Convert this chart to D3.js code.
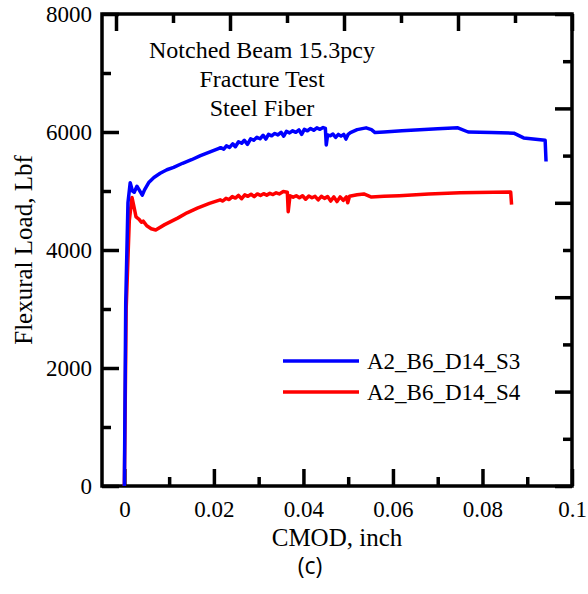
<!DOCTYPE html>
<html>
<head>
<meta charset="utf-8">
<script src="https://cdn.jsdelivr.net/npm/d3@7"></script>
<style>
  body { margin: 0; background: #fff; }
  svg { display: block; }
  .tick text { font-family: "Liberation Serif", serif; font-size: 23px; fill: #000; }
</style>
</head>
<body>
<div id="chart"></div>
<script>
// series S3 (blue): CMOD in inch, load in lbf
const s3Cmod = [0, 0.0003, 0.0008, 0.0013, 0.0018, 0.0022, 0.0028, 0.0033, 0.0040, 0.0045, 0.0055, 0.0066, 0.0080, 0.0095, 0.0110, 0.013, 0.015, 0.017, 0.019, 0.021,
  0.0215, 0.0222, 0.0228, 0.0235, 0.0242, 0.0248, 0.0255, 0.0262, 0.0268, 0.0275, 0.0282, 0.0289, 0.0296, 0.0303, 0.031, 0.0316, 0.0322, 0.0329, 0.0336, 0.0343,
  0.035, 0.0356, 0.0362, 0.0369, 0.0376, 0.0383, 0.039, 0.0396, 0.0402, 0.0409, 0.0416, 0.0423, 0.043, 0.0437, 0.0444, 0.0449, 0.0451, 0.0454, 0.046, 0.0466,
  0.0472, 0.0478, 0.0484, 0.049, 0.0495, 0.050, 0.0505, 0.052, 0.054, 0.0552, 0.056, 0.058, 0.062, 0.066, 0.070, 0.0745, 0.0768, 0.082, 0.087, 0.0892, 0.094, 0.0942];
const s3Load = [0, 3100, 4800, 5140, 5000, 4980, 5080, 5020, 4930, 5020, 5150, 5230, 5300, 5360, 5400, 5470, 5530, 5600, 5660, 5720,
  5735, 5710, 5765, 5740, 5800, 5750, 5835, 5810, 5860, 5790, 5885, 5860, 5910, 5885, 5945, 5880, 5960, 5935, 5975, 5950,
  5995, 5930, 6010, 5985, 6020, 5995, 6035, 5960, 6045, 6020, 6060, 6030, 6070, 6045, 6075, 6060, 5780, 5950, 5935, 5965,
  5910, 5960, 5930, 5960, 5880, 5960, 5990, 6040, 6070, 6040, 5990, 6000, 6020, 6040, 6055, 6070, 6000, 5990, 5980, 5900, 5860, 5500];

// series S4 (red)
const s4Cmod = [0, 0.0004, 0.0011, 0.0017, 0.0021, 0.0026, 0.0033, 0.0038, 0.0042, 0.0050, 0.0060, 0.0070, 0.0090, 0.0119, 0.0140, 0.0163, 0.019, 0.0214,
  0.022, 0.0227, 0.0234, 0.0241, 0.0248, 0.0255, 0.0262, 0.0269, 0.0276, 0.0283, 0.029, 0.0297, 0.0304, 0.0311, 0.0318, 0.0325, 0.0332, 0.0339, 0.0346, 0.0355,
  0.0364, 0.0366, 0.037, 0.0377, 0.0384, 0.0391, 0.0398, 0.0405, 0.0412, 0.0419, 0.0426, 0.0433, 0.044, 0.0447, 0.0454, 0.0461, 0.0468, 0.0475, 0.0482, 0.0489,
  0.0496, 0.0499, 0.0503, 0.052, 0.0535, 0.0552, 0.058, 0.0614, 0.068, 0.075, 0.0863, 0.0865];
const s4Load = [0, 3000, 4500, 4890, 4750, 4560, 4520, 4470, 4490, 4410, 4360, 4340, 4430, 4540, 4630, 4710, 4790, 4850,
  4830, 4875, 4855, 4905, 4880, 4925, 4870, 4935, 4910, 4945, 4905, 4950, 4925, 4955, 4930, 4960, 4940, 4970, 4950, 4990,
  4980, 4650, 4920, 4895, 4920, 4885, 4920, 4860, 4915, 4885, 4910, 4850, 4910, 4875, 4905, 4830, 4900, 4820, 4900, 4840,
  4900, 4800, 4910, 4935, 4950, 4898, 4910, 4920, 4950, 4970, 4985, 4770];

const seriesNames = ["A2_B6_D14_S3", "A2_B6_D14_S4"];
const seriesColors = ["#0000ff", "#ff0000"];
const xTicks = [0, 0.02, 0.04, 0.06, 0.08, 0.1];
const xMinor = [0.01, 0.03, 0.05, 0.07, 0.09];
const yTicks = [0, 2000, 4000, 6000, 8000];
const yMinor = [1000, 3000, 5000, 7000];
const titleLines = ["Notched Beam 15.3pcy", "Fracture Test", "Steel Fiber"];

const width = 588, height = 594;
const box = { left: 102, right: 572, top: 14, bottom: 486 };

const svg = d3.select('#chart').append('svg')
  .attr('width', width)
  .attr('height', height);

const x = d3.scaleLinear().domain([-0.005, 0.1]).range([box.left, box.right]);
const y = d3.scaleLinear().domain([0, 8000]).range([box.bottom, box.top]);
// the mirrored top/right axes carry their own tick spacing
const xTop = d3.scaleLinear().domain([0, 4]).range([116, box.right]);
const yRight = d3.scaleLinear().domain([0, 5]).range([box.bottom, box.top]);

const fmtX = d => d === 0 ? "0" : String(+d.toFixed(2));

function styleAxis(g) {
  g.select('.domain').remove();
  g.selectAll('.tick line').attr('stroke', '#000').attr('stroke-width', 3.5);
}

// bottom axis
svg.append('g')
  .attr('transform', `translate(0,${box.bottom})`)
  .call(d3.axisBottom(x).tickValues(xTicks).tickSize(-17).tickPadding(15).tickFormat(fmtX))
  .call(styleAxis);
svg.append('g')
  .attr('transform', `translate(0,${box.bottom})`)
  .call(d3.axisBottom(x).tickValues(xMinor).tickSize(-9).tickFormat(''))
  .call(styleAxis);

// left axis
svg.append('g')
  .attr('transform', `translate(${box.left},0)`)
  .call(d3.axisLeft(y).tickValues(yTicks).tickSize(-17).tickPadding(10).tickFormat(d3.format('d')))
  .call(styleAxis);
svg.append('g')
  .attr('transform', `translate(${box.left},0)`)
  .call(d3.axisLeft(y).tickValues(yMinor).tickSize(-9).tickFormat(''))
  .call(styleAxis);

// top axis
svg.append('g')
  .attr('transform', `translate(0,${box.top})`)
  .call(d3.axisTop(xTop).tickValues([0, 1, 2, 3, 4]).tickSize(-17).tickFormat(''))
  .call(styleAxis);
svg.append('g')
  .attr('transform', `translate(0,${box.top})`)
  .call(d3.axisTop(xTop).tickValues([0.5, 1.5, 2.5, 3.5]).tickSize(-9).tickFormat(''))
  .call(styleAxis);

// right axis
svg.append('g')
  .attr('transform', `translate(${box.right},0)`)
  .call(d3.axisRight(yRight).tickValues([0, 1, 2, 3, 4, 5]).tickSize(-17).tickFormat(''))
  .call(styleAxis);
svg.append('g')
  .attr('transform', `translate(${box.right},0)`)
  .call(d3.axisRight(yRight).tickValues([0.5, 1.5, 2.5, 3.5, 4.5]).tickSize(-9).tickFormat(''))
  .call(styleAxis);

// frame
svg.append('rect')
  .attr('x', box.left).attr('y', box.top)
  .attr('width', box.right - box.left).attr('height', box.bottom - box.top)
  .attr('fill', 'none').attr('stroke', '#000').attr('stroke-width', 3.5);

// curves (red first so blue sits on top near the origin)
const line = d3.line().x(d => x(d[0])).y(d => y(d[1]));
const s3 = s3Cmod.map((c, i) => [c, s3Load[i]]);
const s4 = s4Cmod.map((c, i) => [c, s4Load[i]]);

[s4, s3].forEach((data, i) => {
  svg.append('path')
    .datum(data)
    .attr('fill', 'none')
    .attr('stroke', seriesColors[1 - i])
    .attr('stroke-width', 3.5)
    .attr('stroke-linejoin', 'round')
    .attr('d', line);
});

// title block
svg.append('g').selectAll('text')
  .data(titleLines)
  .join('text')
    .attr('x', 262)
    .attr('y', (d, i) => 58 + i * 29)
    .attr('text-anchor', 'middle')
    .attr('font-family', '"Liberation Serif", serif')
    .attr('font-size', 24)
    .text(d => d);

// legend
const legend = svg.append('g').attr('transform', 'translate(283,361)');
seriesNames.forEach((name, i) => {
  legend.append('line')
    .attr('x1', 0).attr('x2', 76)
    .attr('y1', i * 31).attr('y2', i * 31)
    .attr('stroke', seriesColors[i]).attr('stroke-width', 3.5);
  legend.append('text')
    .attr('x', 84).attr('y', i * 31 + 8)
    .attr('font-family', '"Liberation Serif", serif')
    .attr('font-size', 23)
    .text(name);
});

// axis titles
svg.append('text')
  .attr('x', (box.left + box.right) / 2).attr('y', 546)
  .attr('text-anchor', 'middle')
  .attr('font-family', '"Liberation Serif", serif')
  .attr('font-size', 25)
  .text('CMOD, inch');

svg.append('text')
  .attr('transform', `translate(32,${(box.top + box.bottom) / 2}) rotate(-90)`)
  .attr('text-anchor', 'middle')
  .attr('font-family', '"Liberation Serif", serif')
  .attr('font-size', 25)
  .text('Flexural Load, Lbf');

svg.append('text')
  .attr('x', 310).attr('y', 574)
  .attr('text-anchor', 'middle')
  .attr('font-family', '"Open Sans", sans-serif')
  .attr('font-size', 23)
  .text('(c)');
</script>
</body>
</html>
